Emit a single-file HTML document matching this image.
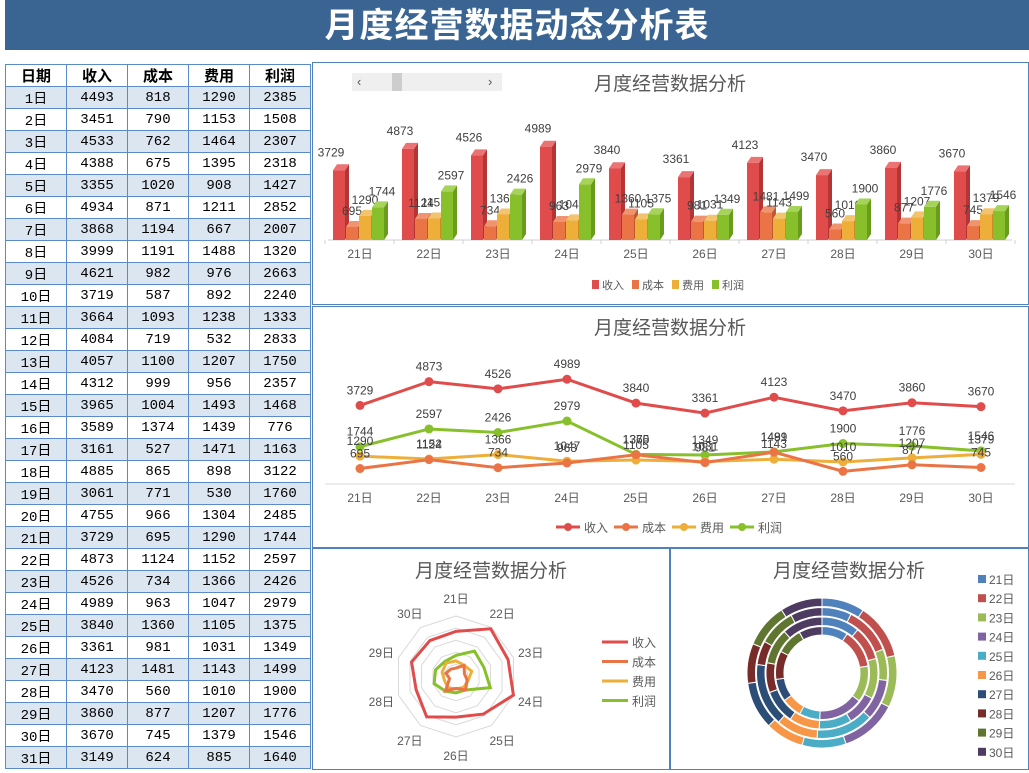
<!DOCTYPE html>
<html><head><meta charset="utf-8">
<style>
*{margin:0;padding:0;box-sizing:border-box}
body{width:1029px;height:773px;background:#fff;position:relative;overflow:hidden;font-family:"Liberation Sans","Noto Sans CJK SC",sans-serif}
#title{position:absolute;left:5px;top:0;width:1024px;height:50px;background:#3a6593;color:#fff;font-size:34px;font-weight:bold;text-align:center;line-height:52px;letter-spacing:1px}
table{position:absolute;left:5px;top:64px;border-collapse:collapse;width:306px}
td,th{border:1px solid #5b8ac8;height:22px;text-align:center;font-size:14px;font-family:"Liberation Mono","Noto Sans CJK SC",monospace;padding:0;width:61px}
th{font-size:15px;font-family:"Liberation Sans","Noto Sans CJK SC",sans-serif;font-weight:bold}
tr.o td{background:#dce6f1}
.panel{position:absolute;border:1px solid #4f81bd;background:#fff}
svg text{font-family:"Liberation Sans","Noto Sans CJK SC",sans-serif}
</style></head><body>
<div id="title">月度经营数据动态分析表</div>
<table id="tbl"><thead><tr><th>日期</th><th>收入</th><th>成本</th><th>费用</th><th>利润</th></tr></thead><tbody></tbody></table>
<div class="panel" style="left:312px;top:62px;width:717px;height:243px"></div>
<div class="panel" style="left:312px;top:306px;width:717px;height:242px"></div>
<div class="panel" style="left:312px;top:548px;width:358px;height:222px"></div>
<div class="panel" style="left:670px;top:548px;width:359px;height:222px"></div>
<svg id="s" width="1029" height="773" style="position:absolute;left:0;top:0"></svg>
<script>
const days=[];for(let i=1;i<=31;i++)days.push(i+'日');
const revenue=[4493,3451,4533,4388,3355,4934,3868,3999,4621,3719,3664,4084,4057,4312,3965,3589,3161,4885,3061,4755,3729,4873,4526,4989,3840,3361,4123,3470,3860,3670,3149];
const cost=[818,790,762,675,1020,871,1194,1191,982,587,1093,719,1100,999,1004,1374,527,865,771,966,695,1124,734,963,1360,981,1481,560,877,745,624];
const expense=[1290,1153,1464,1395,908,1211,667,1488,976,892,1238,532,1207,956,1493,1439,1471,898,530,1304,1290,1152,1366,1047,1105,1031,1143,1010,1207,1379,885];
const profit=[2385,1508,2307,2318,1427,2852,2007,1320,2663,2240,1333,2833,1750,2357,1468,776,1163,3122,1760,2485,1744,2597,2426,2979,1375,1349,1499,1900,1776,1546,1640];
const seriesNames=['收入','成本','费用','利润'];
const start=20,cnt=10;
const cats=days.slice(start,start+cnt);
const S=[revenue,cost,expense,profit].map(a=>a.slice(start,start+cnt));
const cols=['#e04b4b','#ea7445','#eeae3a','#88c02c'];
const donutCols=['#4f81bd','#c0504d','#9bbb59','#8064a2','#4bacc6','#f79646','#2c4d75','#772c2a','#5f7530','#4d3b62'];

const tb=document.querySelector('#tbl tbody');
days.forEach((d,i)=>{const tr=document.createElement('tr');if(i%2==0)tr.className='o';


[d,revenue[i],cost[i],expense[i],profit[i]].forEach(v=>{const td=document.createElement('td');td.textContent=v;tr.appendChild(td);});tb.appendChild(tr);});

const svg=document.getElementById('s');const NS='http://www.w3.org/2000/svg';
function el(t,a,txt){const e=document.createElementNS(NS,t);for(const k in a)e.setAttribute(k,a[k]);if(txt!=null)e.textContent=txt;svg.appendChild(e);return e;}
function title(x,y){const t=el('text',{x:x,y:y,'font-size':19,fill:'#595959','text-anchor':'middle'},'月度经营数据分析');}

// scrollbar
const sb=el('rect',{x:352,y:73,width:150,height:18,fill:'#efefef'});


el('rect',{x:392,y:73,width:10,height:18,fill:'#cdcdcd'});
el('text',{x:357,y:86,'font-size':13,fill:'#555'},'‹');el('text',{x:488,y:86,'font-size':13,fill:'#555'},'›');

// BAR CHART
title(670,90);
const bx=i=>360+i*69, by=v=>240-v*0.0187;
el('line',{x1:328,y1:240,x2:1012,y2:240,stroke:'#d0d0d0'});
for(let i=0;i<=cnt;i++)el('line',{x1:325+i*69,y1:240,x2:325+i*69,y2:244,stroke:'#d0d0d0'});
const dark=['#b53535','#c2582f','#c98d22','#6a9c1c'],light=['#eb7373','#f09470','#f3c470','#a6d45a'];
cats.forEach((c,i)=>{
  el('text',{x:bx(i),y:258,'font-size':12,fill:'#595959','text-anchor':'middle'},c);
  S.forEach((arr,k)=>{
    const x=bx(i)-27+k*13,y=by(arr[i]),w=12,d=4,u=6;
    el('polygon',{points:`${x+w},${y} ${x+w+d},${y-u} ${x+w+d},${240-u} ${x+w},240`,fill:dark[k]});
    el('polygon',{points:`${x},${y} ${x+d},${y-u} ${x+w+d},${y-u} ${x+w},${y}`,fill:light[k]});
    const r=el('rect',{x:x,y:y,width:w,height:240-y,fill:cols[k]});
    
    
    el('text',{x:x+w/2+(k==0?-8:k==3?4:0),y:y-(k==0?14:12),'font-size':12,fill:'#404040','text-anchor':'middle'},arr[i]);
  });
});
let lx=592;seriesNames.forEach((n,k)=>{el('rect',{x:lx,y:280,width:7,height:9,fill:cols[k]});el('text',{x:lx+10,y:289,'font-size':11,fill:'#595959'},n);lx+=40;});

// LINE CHART
title(670,334);
const ly=v=>483-v*0.0208;
el('line',{x1:325,y1:484,x2:1015,y2:484,stroke:'#d9d9d9'});
cats.forEach((c,i)=>el('text',{x:bx(i),y:502,'font-size':12,fill:'#595959','text-anchor':'middle'},c));
[3,2,1,0].forEach(k=>{
  const arr=S[k];
  const p=el('polyline',{points:arr.map((v,i)=>bx(i)+','+ly(v)).join(' '),fill:'none',stroke:cols[k],'stroke-width':3});
  
  
  arr.forEach((v,i)=>{el('circle',{cx:bx(i),cy:ly(v),r:4.5,fill:cols[k]});
    el('text',{x:bx(i),y:ly(v)-11,'font-size':12,fill:'#404040','text-anchor':'middle'},v);});
});
lx=556;seriesNames.forEach((n,k)=>{el('line',{x1:lx,y1:527,x2:lx+24,y2:527,stroke:cols[k],'stroke-width':3});el('circle',{cx:lx+12,cy:527,r:4,fill:cols[k]});el('text',{x:lx+28,y:532,'font-size':12,fill:'#595959'},n);lx+=58;});

// RADAR
title(491,577);
const rcx=456,rcy=676.5,R=60.5,rmax=5000;
const ang=i=>(-90+i*36)*Math.PI/180;
for(let g=1;g<=5;g++){const rr=R*g/5;el('polygon',{points:cats.map((c,i)=>(rcx+rr*Math.cos(ang(i)))+','+(rcy+rr*Math.sin(ang(i)))).join(' '),fill:'none',stroke:'#d9d9d9','stroke-width':1});}
cats.forEach((c,i)=>el('text',{x:rcx+(R+18)*Math.cos(ang(i)),y:rcy+(R+18)*Math.sin(ang(i))+5,'font-size':12,fill:'#595959','text-anchor':'middle'},c));
[3,2,1,0].forEach(k=>{const p=el('polygon',{points:S[k].map((v,i)=>(rcx+R*v/rmax*Math.cos(ang(i)))+','+(rcy+R*v/rmax*Math.sin(ang(i)))).join(' '),fill:'none',stroke:cols[k],'stroke-width':3});

});
seriesNames.forEach((n,k)=>{el('line',{x1:602,y1:642+k*19.5,x2:628,y2:642+k*19.5,stroke:cols[k],'stroke-width':3});el('text',{x:632,y:647+k*19.5,'font-size':12,fill:'#595959'},n);});

// DONUT
title(849,577);
const dcx=822,dcy=673;
function arc(r0,r1,a0,a1){const p=(r,a)=>(dcx+r*Math.sin(a))+','+(dcy-r*Math.cos(a));const lg=(a1-a0)>Math.PI?1:0;
return `M${p(r1,a0)} A${r1},${r1} 0 ${lg} 1 ${p(r1,a1)} L${p(r0,a1)} A${r0},${r0} 0 ${lg} 0 ${p(r0,a0)}Z`;}
S.forEach((arr,k)=>{const r1=75-k*9.5,r0=r1-8.5;const tot=arr.reduce((a,b)=>a+b,0);let a=0;
 arr.forEach((v,i)=>{const a1=a+v/tot*2*Math.PI;const p=el('path',{d:arc(r0,r1,a,a1),fill:donutCols[i],stroke:'#fff','stroke-width':1});
 
 a=a1;});});
cats.forEach((c,i)=>{el('rect',{x:978,y:575+i*19.2,width:8,height:8,fill:donutCols[i]});el('text',{x:989,y:584+i*19.2,'font-size':12,fill:'#595959'},c);});
</script>
</body></html>
